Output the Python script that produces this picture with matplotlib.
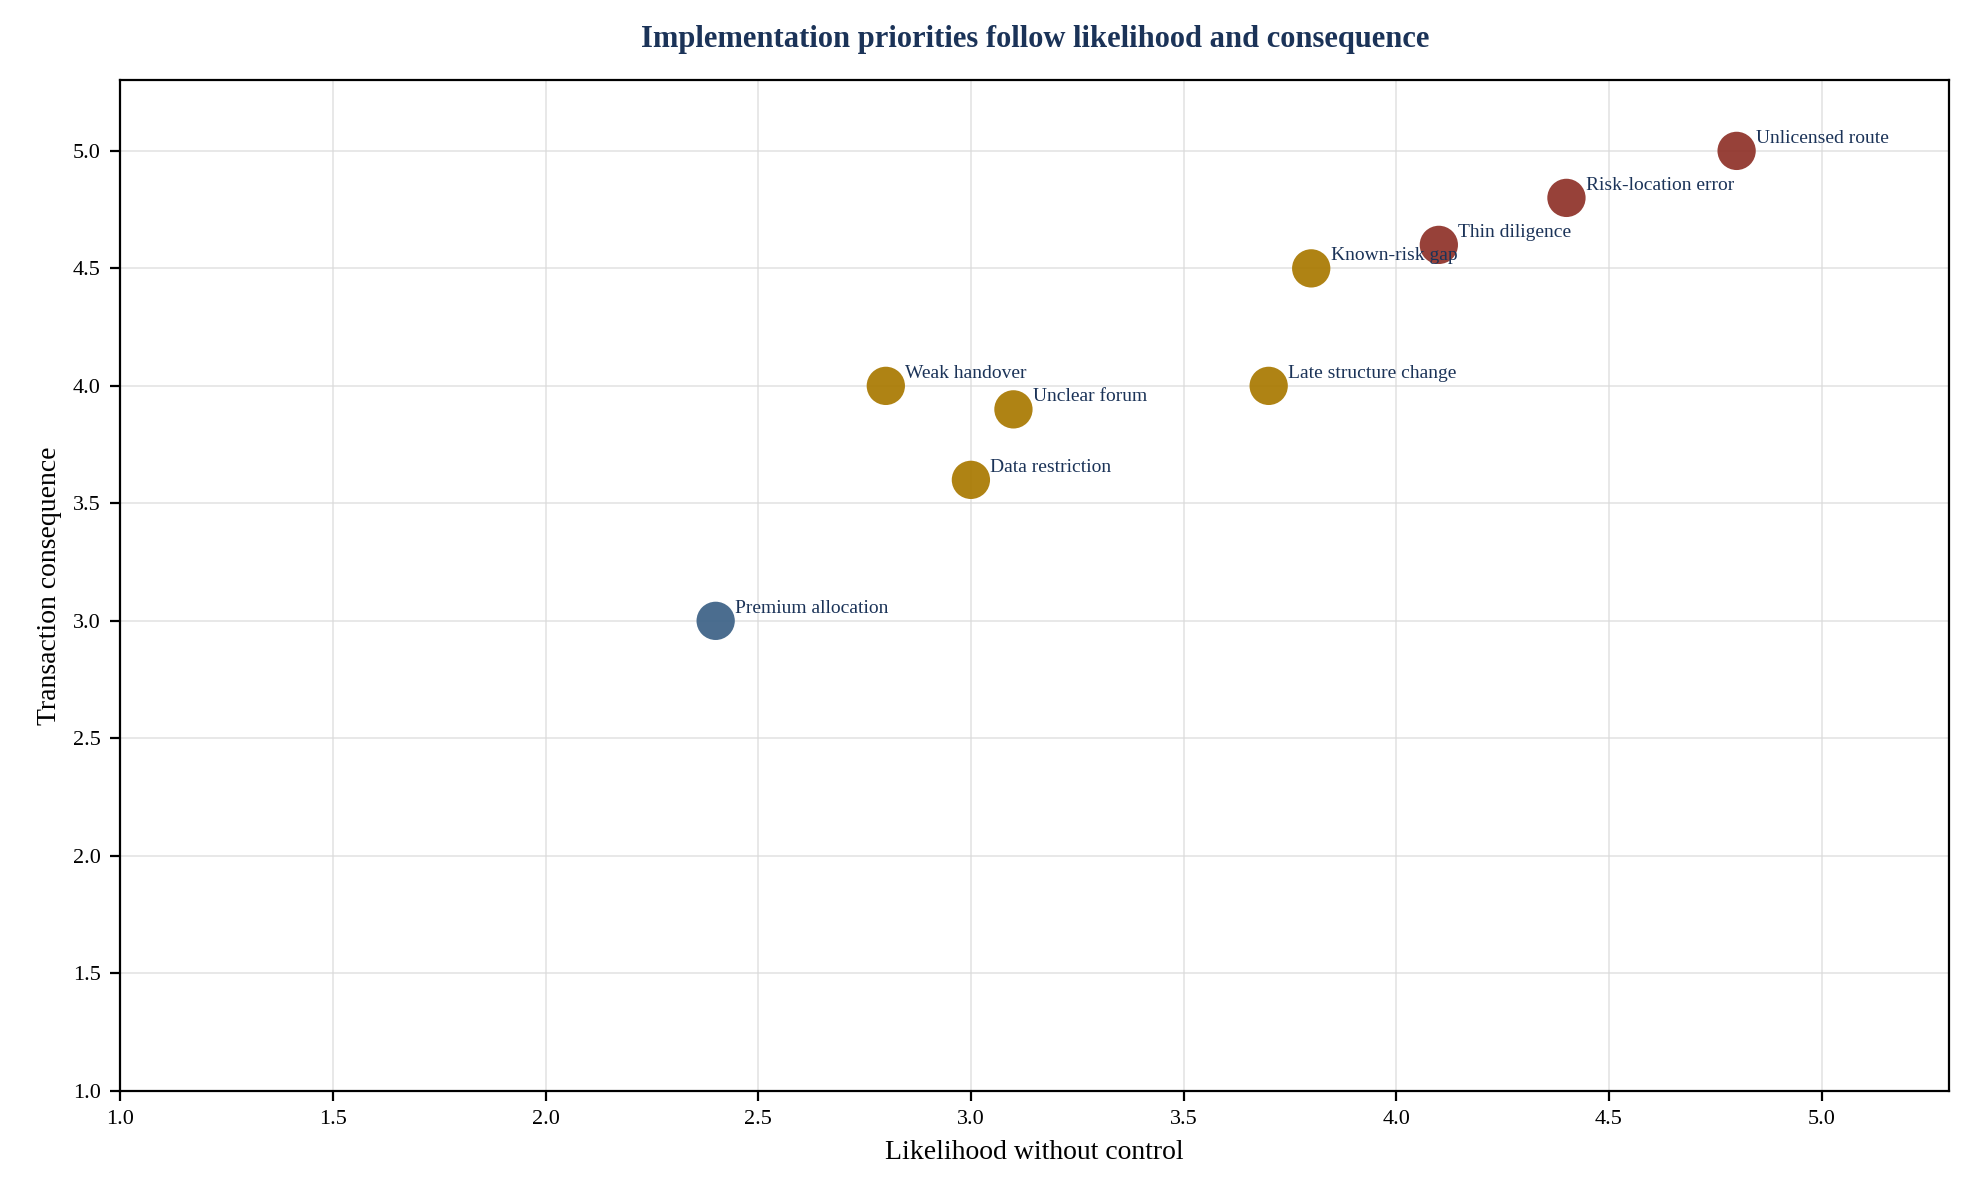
import matplotlib
matplotlib.use('Agg')
import matplotlib.pyplot as plt

plt.rcParams['font.family'] = ['Liberation Serif', 'DejaVu Serif']

# ── Data ──────────────────────────────────────────────────────────────────────
labels = ['Unlicensed route', 'Risk-location error', 'Thin diligence', 'Known-risk gap',
          'Late structure change', 'Weak handover', 'Unclear forum', 'Data restriction',
          'Premium allocation']
likelihood = [4.8, 4.4, 4.1, 3.8, 3.7, 2.8, 3.1, 3.0, 2.4]
consequence = [5.0, 4.8, 4.6, 4.5, 4.0, 4.0, 3.9, 3.6, 3.0]
tier = ['high', 'high', 'high', 'mid', 'mid', 'mid', 'mid', 'mid', 'low']

tier_colors = {'high': '#8e3128', 'mid': '#a87800', 'low': '#3b6186'}
text_color = '#1b3358'

fig = plt.figure(figsize=(9.845, 6), dpi=200)
ax = fig.add_axes([0.061, 0.091, 0.929, 0.842])

ax.scatter(likelihood, consequence, s=190, c=[tier_colors[t] for t in tier],
           alpha=0.92, edgecolors='none', zorder=3)
for x, y, lab in zip(likelihood, consequence, labels):
    ax.annotate(lab, (x, y), xytext=(7, 3), textcoords='offset points',
                fontsize=7, color=text_color, zorder=4)

ax.set_xlim(1.0, 5.3)
ax.set_ylim(1.0, 5.3)
ax.set_xticks([1.0, 1.5, 2.0, 2.5, 3.0, 3.5, 4.0, 4.5, 5.0])
ax.set_yticks([1.0, 1.5, 2.0, 2.5, 3.0, 3.5, 4.0, 4.5, 5.0])
ax.tick_params(labelsize=8)
ax.grid(True, color='#d9d9d9', linewidth=0.6, alpha=0.7)
ax.set_axisbelow(True)
ax.set_xlabel('Likelihood without control', fontsize=10)
ax.set_ylabel('Transaction consequence', fontsize=10)
ax.set_title('Implementation priorities follow likelihood and consequence',
             fontsize=11, fontweight='bold', color=text_color, pad=12)

fig.savefig('out.png', dpi=200)
